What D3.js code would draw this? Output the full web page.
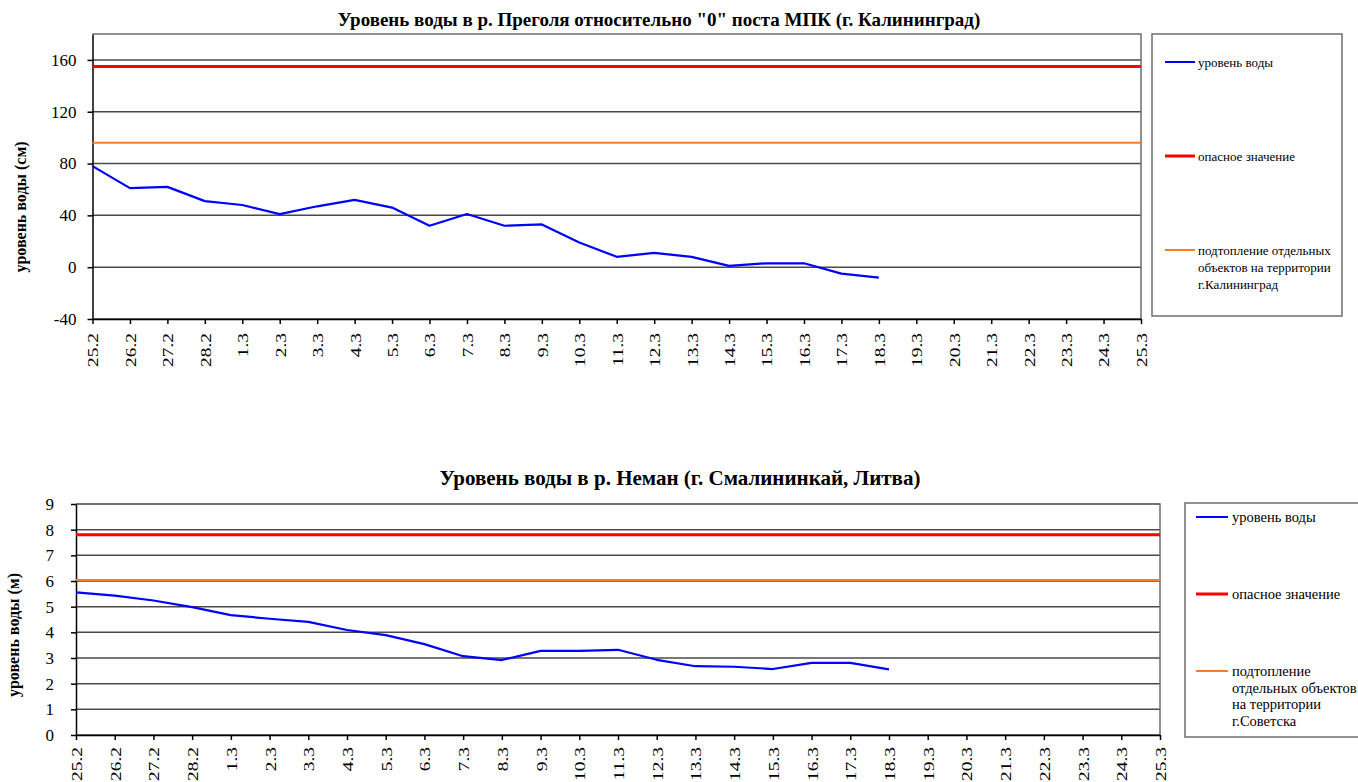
<!DOCTYPE html>
<html>
<head>
<meta charset="utf-8">
<script src="https://cdn.jsdelivr.net/npm/d3@7"></script>
<style>
  body { margin: 0; background: #fff; }
  svg { display: block; }
  text { font-family: "Liberation Serif", "Times New Roman", serif; fill: #000; }
</style>
</head>
<body>
<div id="chart"></div>
<script>
// Dates (day.month) shared by both charts
const dates = ['25.2', '26.2', '27.2', '28.2', '1.3', '2.3', '3.3', '4.3', '5.3', '6.3',
  '7.3', '8.3', '9.3', '10.3', '11.3', '12.3', '13.3', '14.3', '15.3', '16.3',
  '17.3', '18.3', '19.3', '20.3', '21.3', '22.3', '23.3', '24.3', '25.3'];

// Pregolya, Kaliningrad (cm relative to "0" of the post)
const pregolyaLevel = [78, 61, 62, 51, 48, 41, 47, 52, 46, 32, 41, 32, 33, 19, 8, 11, 8, 1, 3, 3, -5, -8];
const pregolyaDanger = 155;
const pregolyaFlood = 96;
const pregolyaTicks = [-40, 0, 40, 80, 120, 160];

// Neman, Smalininkai (m)
const nemanLevel = [5.56, 5.43, 5.24, 4.98, 4.67, 4.53, 4.41, 4.09, 3.89, 3.54, 3.07, 2.92, 3.28, 3.28,
  3.32, 2.93, 2.68, 2.66, 2.57, 2.81, 2.81, 2.56];
const nemanDanger = 7.8;
const nemanFlood = 6.04;
const nemanTicks = [0, 1, 2, 3, 4, 5, 6, 7, 8, 9];

const seriesNames = ['уровень воды', 'опасное значение'];

const BLUE = '#0000ff';
const RED = '#ff0000';
const ORANGE = '#ff7a24';

const svg = d3.select('#chart')
  .append('svg')
  .attr('width', 1358)
  .attr('height', 782);

svg.append('rect').attr('width', 1358).attr('height', 782).attr('fill', '#fff');

function drawLevelChart(c) {
  const x = d3.scalePoint().domain(dates).range([c.left, c.right]);
  const y = d3.scaleLinear().domain(c.domain).range([c.bottom, c.top]);
  const g = svg.append('g');

  // grid lines
  g.append('g')
    .selectAll('line')
    .data(c.ticks)
    .join('line')
    .attr('x1', c.left)
    .attr('x2', c.right)
    .attr('y1', d => y(d))
    .attr('y2', d => y(d))
    .attr('stroke', '#4a4a4a')
    .attr('stroke-width', 1.5);

  // plot area border (top + right)
  g.append('path')
    .attr('d', `M${c.left},${c.top}H${c.right}V${c.bottom}`)
    .attr('fill', 'none')
    .attr('stroke', '#6e6e6e')
    .attr('stroke-width', 1.5);

  // axes
  const yAxis = g.append('g')
    .attr('transform', `translate(${c.left},0)`)
    .call(d3.axisLeft(y).tickValues(c.ticks).tickSize(5).tickSizeOuter(0)
      .tickPadding(c.yPad).tickFormat(d => String(d)));
  yAxis.selectAll('text').style('font-size', '17px').style('font-family', '"Liberation Serif", serif');

  const xAxis = g.append('g')
    .attr('transform', `translate(0,${c.bottom})`)
    .call(d3.axisBottom(x).tickSize(5).tickSizeOuter(0));
  xAxis.selectAll('text')
    .attr('x', 0)
    .attr('y', 0)
    .attr('dy', '0.35em')
    .attr('text-anchor', 'end')
    .attr('transform', `translate(0,${c.xPad}) rotate(-90) scale(1.25,1)`)
    .style('font-size', '15.5px')
    .style('font-family', '"Liberation Serif", serif');
  [yAxis, xAxis].forEach(a => a.selectAll('path, line').attr('stroke', '#000').attr('stroke-width', 1.5));

  // threshold lines across the whole period
  const flat = v => dates.map(d => ({ date: d, v }));
  const thLine = d3.line().x(d => x(d.date)).y(d => y(d.v));
  g.append('path').attr('d', thLine(flat(c.flood)))
    .attr('fill', 'none').attr('stroke', ORANGE).attr('stroke-width', 2);
  g.append('path').attr('d', thLine(flat(c.danger)))
    .attr('fill', 'none').attr('stroke', RED).attr('stroke-width', 3);

  // water level
  const levelLine = d3.line().x((d, i) => x(dates[i])).y(d => y(d));
  g.append('path').attr('d', levelLine(c.level))
    .attr('fill', 'none').attr('stroke', BLUE).attr('stroke-width', 2.2)
    .attr('stroke-linejoin', 'round');

  // titles
  g.append('text')
    .attr('x', c.titleX).attr('y', c.titleY)
    .attr('text-anchor', 'middle')
    .style('font-size', c.titleSize + 'px')
    .style('font-weight', 'bold')
    .text(c.title);

  g.append('text')
    .attr('transform', `translate(${c.yTitleX},${c.yTitleY}) rotate(-90)`)
    .attr('text-anchor', 'middle')
    .attr('dy', '0.35em')
    .style('font-size', '16px')
    .style('font-weight', 'bold')
    .text(c.yTitle);

  // legend
  const L = c.legend;
  g.append('rect')
    .attr('x', L.x).attr('y', L.y).attr('width', L.w).attr('height', L.h)
    .attr('fill', '#fff').attr('stroke', '#6e6e6e').attr('stroke-width', 1.5);
  const entries = [
    { color: BLUE, width: 2, lines: [seriesNames[0]] },
    { color: RED, width: 3, lines: [seriesNames[1]] },
    { color: ORANGE, width: 2, lines: c.floodLabel }
  ];
  entries.forEach((e, i) => {
    const ey = L.rows[i];
    g.append('line')
      .attr('x1', L.lineX1).attr('x2', L.lineX2)
      .attr('y1', ey).attr('y2', ey)
      .attr('stroke', e.color).attr('stroke-width', e.width);
    const t = g.append('text')
      .attr('x', L.textX).attr('y', ey)
      .style('font-size', L.fontSize + 'px');
    e.lines.forEach((s, k) => {
      t.append('tspan').attr('x', L.textX).attr('dy', k === 0 ? '0.35em' : L.lineGap + 'px').text(s);
    });
  });
}

drawLevelChart({
  left: 92.5, right: 1141, top: 34, bottom: 319,
  domain: [-40, 180], ticks: pregolyaTicks,
  level: pregolyaLevel, danger: pregolyaDanger, flood: pregolyaFlood,
  yPad: 11, xPad: 14,
  title: 'Уровень воды в р. Преголя относительно "0" поста МПК (г. Калининград)',
  titleX: 659, titleY: 26, titleSize: 19,
  yTitle: 'уровень воды (см)', yTitleX: 20, yTitleY: 207,
  floodLabel: ['подтопление отдельных', 'объектов на территории', 'г.Калининград'],
  legend: {
    x: 1152, y: 34, w: 190, h: 282,
    lineX1: 1165, lineX2: 1195, textX: 1198,
    rows: [62, 156, 250], fontSize: 13, lineGap: 17
  }
});

drawLevelChart({
  left: 76, right: 1160, top: 504, bottom: 735,
  domain: [0, 9], ticks: nemanTicks,
  level: nemanLevel, danger: nemanDanger, flood: nemanFlood,
  yPad: 17, xPad: 12,
  title: 'Уровень воды в р. Неман (г. Смалининкай, Литва)',
  titleX: 680, titleY: 485, titleSize: 21,
  yTitle: 'уровень воды (м)', yTitleX: 13, yTitleY: 635,
  floodLabel: ['подтопление', 'отдельных объектов', 'на территории', 'г.Советска'],
  legend: {
    x: 1185, y: 503, w: 190, h: 234,
    lineX1: 1196, lineX2: 1228, textX: 1232,
    rows: [517, 594, 671], fontSize: 14.5, lineGap: 16.5
  }
});
</script>
</body>
</html>
